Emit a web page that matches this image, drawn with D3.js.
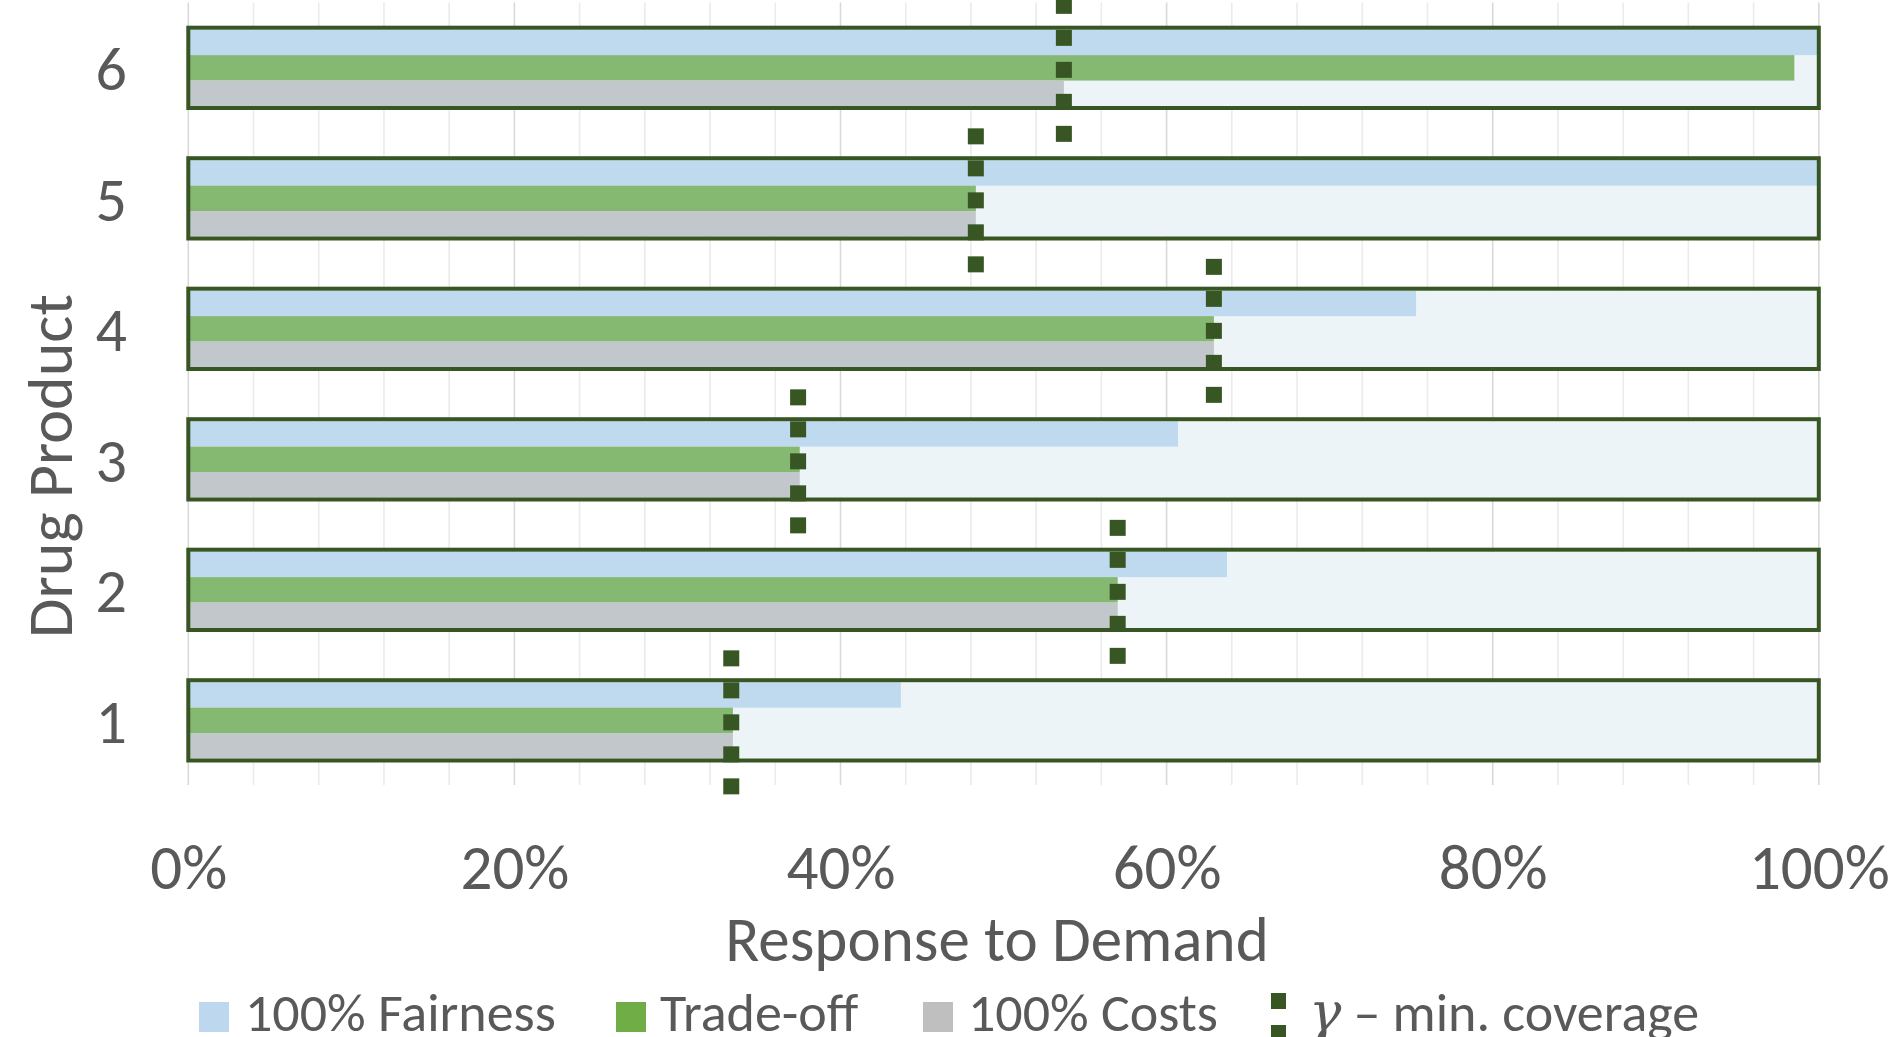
<!DOCTYPE html>
<html>
<head>
<meta charset="utf-8">
<script src="https://cdn.jsdelivr.net/npm/d3@7"></script>
<style>
  html, body { margin: 0; padding: 0; background: #ffffff; }
  svg { display: block; }
  text { font-family: Calibri, Carlito, Lato, sans-serif; fill: #595959; }
</style>
</head>
<body>
<svg id="chart" width="1895" height="1037"></svg>
<script>
// Drug products, listed bottom to top
const products = ["1", "2", "3", "4", "5", "6"];

// Response to demand per product (fraction of demand met)
const fairness = [0.437, 0.637, 0.607, 0.753, 1.000, 1.000];
const tradeOff = [0.334, 0.570, 0.375, 0.629, 0.483, 0.985];
const costs    = [0.334, 0.570, 0.375, 0.629, 0.483, 0.537];
const gamma    = [0.333, 0.570, 0.374, 0.629, 0.483, 0.537];

const seriesNames = ["100% Fairness", "Trade-off", "100% Costs"];
const xTicks = [0, 0.2, 0.4, 0.6, 0.8, 1.0];

const barColors = ["#BFD9EE", "#85B870", "#C1C7CB"];
const swatchColors = ["#BDD7EE", "#70AD47", "#BFBFBF"];
const dark = "#375623";
const boxFill = "#EDF4F8";

const svg = d3.select("#chart");

const x = d3.scaleLinear().domain([0, 1]).range([188.3, 1818.8]);
const y = d3.scaleBand().domain(products.slice().reverse()).range([2.6, 785.6]).padding(0);

const groupH = 76.3;
const sub = d3.scaleBand().domain(seriesNames).range([0, groupH]).padding(0);

const rows = products.map((p, i) => ({
  p,
  center: y(p) + y.bandwidth() / 2,
  vals: [fairness[i], tradeOff[i], costs[i]],
  g: gamma[i]
}));

// Vertical gridlines: minor every 4 %, darker every 20 %
const grid = svg.append("g");
d3.range(0, 1.0001, 0.04).forEach(v => {
  const major = Math.abs(Math.round(v * 100) % 20) < 0.5;
  grid.append("line")
    .attr("x1", x(v)).attr("x2", x(v))
    .attr("y1", 2.5).attr("y2", 785)
    .attr("stroke", major ? "#D9D9D9" : "#EBEBEB")
    .attr("stroke-width", 1.6);
});

// Background frame for each product (full 100 % span)
svg.append("g").selectAll("rect")
  .data(rows)
  .join("rect")
  .attr("x", x(0))
  .attr("y", d => d.center - groupH / 2)
  .attr("width", x(1) - x(0))
  .attr("height", groupH)
  .attr("fill", boxFill);

// Bars
const bars = svg.append("g");
rows.forEach(r => {
  seriesNames.forEach((s, j) => {
    bars.append("rect")
      .attr("x", x(0))
      .attr("y", r.center - groupH / 2 + sub(s))
      .attr("width", x(r.vals[j]) - x(0))
      .attr("height", sub.bandwidth())
      .attr("fill", barColors[j]);
  });
});

// Frame outlines on top of bars
svg.append("g").selectAll("rect")
  .data(rows)
  .join("rect")
  .attr("x", x(0))
  .attr("y", d => d.center - groupH / 2 - 2)
  .attr("width", x(1) - x(0))
  .attr("height", groupH + 4)
  .attr("fill", "none")
  .attr("stroke", dark)
  .attr("stroke-width", 4);

// Minimum coverage markers (dashed vertical of squares)
const mk = 16, step = 32;
const markers = svg.append("g");
rows.forEach(r => {
  [-2, -1, 0, 1, 2].forEach(k => {
    markers.append("rect")
      .attr("x", x(r.g) - mk / 2)
      .attr("y", r.center + 2 + k * step - mk / 2)
      .attr("width", mk)
      .attr("height", mk)
      .attr("fill", dark);
  });
});

// X axis tick labels
const xAxis = d3.axisBottom(x).tickValues(xTicks).tickFormat(d3.format(".0%")).tickSize(0).tickPadding(0);
const xg = svg.append("g").attr("transform", "translate(0,889)").call(xAxis);
xg.select(".domain").remove();
xg.selectAll("text")
  .attr("dy", 0)
  .attr("y", 0)
  .attr("fill", "#595959")
  .style("font-size", "63px")
  .style("font-family", "Calibri, Carlito, Lato, sans-serif");

// Y axis category labels
const yAxis = d3.axisLeft(y).tickSize(0).tickPadding(0);
const yg = svg.append("g").attr("transform", "translate(127,0)").call(yAxis);
yg.select(".domain").remove();
yg.selectAll("text")
  .attr("x", 0)
  .attr("dy", "0.36em")
  .attr("fill", "#595959")
  .style("font-size", "62px")
  .style("font-family", "Calibri, Carlito, Lato, sans-serif");

// Axis titles
svg.append("text")
  .attr("x", 997).attr("y", 961)
  .attr("text-anchor", "middle")
  .style("font-size", "63px")
  .text("Response to Demand");

svg.append("text")
  .attr("transform", "translate(72,466) rotate(-90)")
  .attr("text-anchor", "middle")
  .style("font-size", "64px")
  .text("Drug Product");

// Legend
const legend = svg.append("g");
const legendX = [199, 616, 923];
const legendTextX = [245, 660, 968];
seriesNames.forEach((s, j) => {
  legend.append("rect")
    .attr("x", legendX[j]).attr("y", 1002)
    .attr("width", 30).attr("height", 30)
    .attr("fill", swatchColors[j]);
  legend.append("text")
    .attr("x", legendTextX[j]).attr("y", 1031)
    .style("font-size", "54px")
    .text(s);
});
legend.append("rect").attr("x", 1271).attr("y", 993).attr("width", 15).attr("height", 16).attr("fill", dark);
legend.append("rect").attr("x", 1271).attr("y", 1025).attr("width", 15).attr("height", 16).attr("fill", dark);
const gt = legend.append("text").attr("x", 1309).attr("y", 1031).style("font-size", "54px");
gt.append("tspan").style("font-style", "italic").style("font-family", "'DejaVu Serif', serif").text("γ");
gt.append("tspan").text(" – min. coverage");
</script>
</body>
</html>
